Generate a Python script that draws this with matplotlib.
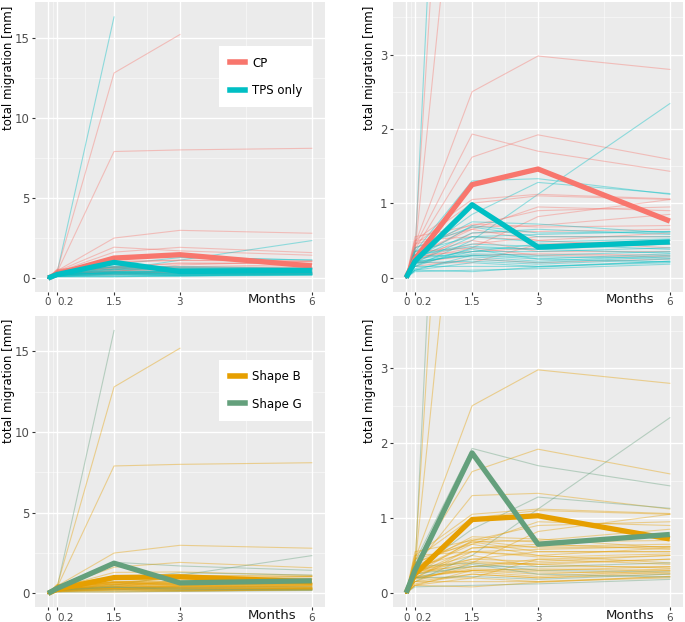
import numpy as np
import matplotlib.pyplot as plt
from matplotlib.lines import Line2D

months = [0, 0.2, 1.5, 3, 6]
xtick_labels = ["0", "0.2", "1.5", "3", "6"]

# per patient migration [mm] at 0.2, 1.5, 3 and 6 months (0 at month 0)
m02 = [0.30, 0.40, 0.35, 0.45, 0.42, 0.38, 0.15, 0.35, 0.30, 0.50, 0.45, 0.30, 0.55, 0.25, 0.30, 0.40,
       0.20, 0.50, 0.25, 0.30, 0.20, 0.15, 0.35, 0.20, 0.45, 0.30, 0.35, 0.25, 0.40, 0.20, 0.30, 0.15,
       0.25, 0.20, 0.10, 0.30, 0.12, 0.20, 0.10, 0.15, 0.08, 0.25, 0.18, 0.22, 0.10, 0.30, 0.20, 0.35]
m15 = [16.3, 12.8, 7.9, 2.5, 1.93, 1.62, 0.50, 1.30, 0.85, 1.05, 1.00, 0.65, 0.70, 0.40, 0.68, 0.72,
       0.60, 0.55, 0.45, 0.35, 0.30, 0.25, 0.40, 0.20, 0.65, 0.50, 0.75, 0.70, 0.68, 0.55, 0.45, 0.40,
       0.35, 0.32, 0.30, 0.28, 0.25, 0.22, 0.20, 0.15, 0.10, 0.60, 0.35, 0.30, 0.08, 0.42, 0.38, 0.55]
m3 = [np.nan, 15.2, 8.0, 2.98, 1.70, 1.92, 1.12, 1.33, 1.28, 1.12, 1.10, 0.95, 0.90, 0.82, 0.70, 0.68,
      0.62, 0.50, 0.55, 0.40, 0.32, 0.20, 0.30, 0.45, 0.50, 0.35, 0.72, 0.60, 0.55, 0.48, 0.42, 0.38,
      0.35, 0.30, 0.25, 0.22, 0.20, 0.18, 0.15, 0.15, 0.12, 0.65, 0.45, 0.28, 0.14, 0.38, 0.25, 0.58]
m6 = [np.nan, np.nan, 8.1, 2.8, 1.43, 1.59, 2.34, 1.12, 1.13, 1.06, 1.05, 0.90, 0.95, 1.05, 0.85, 0.70,
      0.65, 0.60, 0.55, 0.45, 0.30, 0.25, 0.28, 0.50, 0.40, 0.35, 0.60, 0.62, 0.55, 0.52, 0.50, 0.45,
      0.40, 0.35, 0.32, 0.30, 0.28, 0.25, 0.22, 0.20, 0.18, 0.58, 0.38, 0.26, 0.22, 0.33, 0.21, 0.62]
surgery = ["TPS", "CP", "CP", "CP", "CP", "CP", "TPS", "TPS", "TPS", "CP", "CP", "CP", "CP", "CP", "CP", "CP",
           "CP", "CP", "CP", "CP", "CP", "CP", "CP", "CP", "CP", "CP", "TPS", "TPS", "TPS", "TPS", "TPS", "TPS",
           "TPS", "TPS", "TPS", "TPS", "TPS", "TPS", "TPS", "TPS", "TPS", "TPS", "TPS", "TPS", "TPS", "TPS", "TPS", "TPS"]
shape = ["G", "B", "B", "B", "G", "B", "G", "B", "G", "B", "B", "B", "B", "B", "B", "B",
         "B", "B", "B", "B", "B", "B", "G", "B", "B", "B", "B", "B", "B", "B", "B", "B",
         "G", "B", "B", "B", "B", "G", "B", "B", "G", "B", "B", "B", "B", "B", "G", "B"]

# group mean curves
mean_cp = [0, 0.25, 1.25, 1.46, 0.76]
mean_tps = [0, 0.22, 0.98, 0.41, 0.48]
mean_b = [0, 0.25, 0.98, 1.03, 0.72]
mean_g = [0, 0.30, 1.87, 0.65, 0.78]

col_surg = {"CP": "#F8766D", "TPS": "#00BFC4"}
col_shape = {"B": "#E69F00", "G": "#64A07C"}


def panel(ax, groups, colors, means, ylim, yticks, yminor, labelx, legend=None):
    ax.set_facecolor("#EBEBEB")
    for i in range(len(m02)):
        y = [0, m02[i], m15[i], m3[i], m6[i]]
        ax.plot(months, y, color=colors[groups[i]], lw=0.8, alpha=0.4, zorder=2)
    for key, m in means.items():
        ax.plot(months, m, color=colors[key], lw=3.8, solid_capstyle="butt", zorder=3)
    ax.set_xlim(-0.3, 6.3)
    ax.set_ylim(*ylim)
    ax.set_xticks(months)
    ax.set_xticklabels(xtick_labels, fontsize=7.5, color="#4D4D4D")
    ax.get_xticklabels()[1].set_horizontalalignment("left")
    ax.set_xticks([0.1, 0.85, 2.25, 4.5], minor=True)
    ax.set_yticks(yticks)
    ax.set_yticklabels([str(t) for t in yticks], fontsize=8.5, color="#4D4D4D")
    ax.set_yticks(yminor, minor=True)
    ax.grid(which="major", color="white", lw=1.0, zorder=0)
    ax.grid(which="minor", color="white", lw=0.5, alpha=0.7, zorder=0)
    ax.set_axisbelow(True)
    for s in ax.spines.values():
        s.set_visible(False)
    ax.tick_params(which="major", length=2.5, color="#333333", pad=1.5)
    ax.tick_params(which="minor", length=0)
    lab = ax.set_ylabel("total migration [mm]", fontsize=8.5, loc="top")
    lab.set_verticalalignment("center")
    ax.yaxis.set_label_coords(labelx, 0.99)
    ax.annotate("Months", xy=(5.1, -0.028), xycoords=("data", "axes fraction"),
                ha="center", va="center", fontsize=9.5, color="#1A1A1A", annotation_clip=False)
    if legend:
        handles = [Line2D([], [], color=colors[k], lw=4) for k in legend]
        ax.legend(handles, list(legend.values()), loc="upper left", bbox_to_anchor=(0.615, 0.87),
                  frameon=True, facecolor="white", edgecolor="none", fancybox=False,
                  fontsize=8.5, handlelength=1.3, handletextpad=0.6, borderpad=0.9,
                  labelspacing=1.2, framealpha=1)


fig = plt.figure(figsize=(6.85, 6.22), dpi=100)
ax1 = fig.add_axes([0.051, 0.531, 0.4234, 0.465])
ax2 = fig.add_axes([0.5737, 0.531, 0.4234, 0.465])
ax3 = fig.add_axes([0.051, 0.024, 0.4234, 0.468])
ax4 = fig.add_axes([0.5737, 0.024, 0.4234, 0.468])

big = ((-0.85, 17.2), [0, 5, 10, 15], [2.5, 7.5, 12.5])
small = ((-0.19, 3.7), [0, 1, 2, 3], [0.5, 1.5, 2.5, 3.5])

panel(ax1, surgery, col_surg, {"CP": mean_cp, "TPS": mean_tps}, *big, -0.092,
      legend={"CP": "CP", "TPS": "TPS only"})
panel(ax2, surgery, col_surg, {"CP": mean_cp, "TPS": mean_tps}, *small, -0.08)
panel(ax3, shape, col_shape, {"B": mean_b, "G": mean_g}, *big, -0.092,
      legend={"B": "Shape B", "G": "Shape G"})
panel(ax4, shape, col_shape, {"B": mean_b, "G": mean_g}, *small, -0.08)

fig.savefig("out.png", dpi=100)
